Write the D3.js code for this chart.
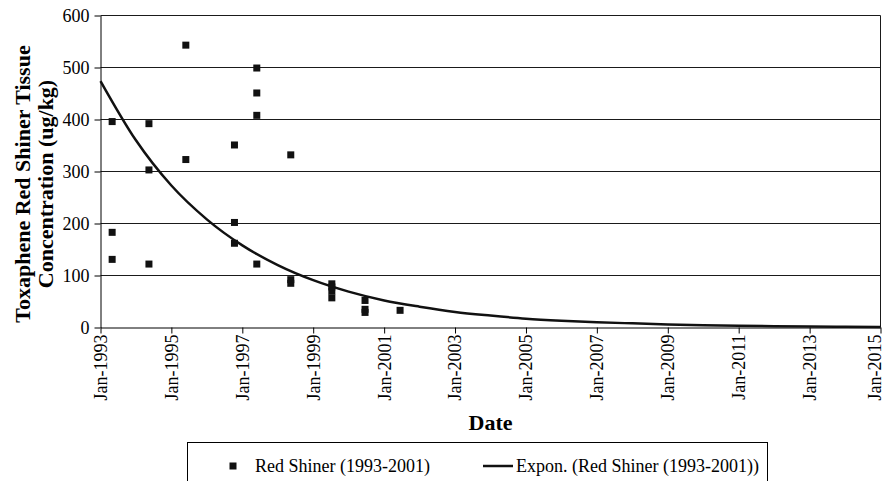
<!DOCTYPE html>
<html>
<head>
<meta charset="utf-8">
<script src="https://cdn.jsdelivr.net/npm/d3@7"></script>
<style>
  body { margin: 0; background: #fff; }
  svg { display: block; }
  text { font-family: "Liberation Serif", "Times New Roman", serif; fill: #000; }
</style>
</head>
<body>
<svg id="chart" width="886" height="481"></svg>
<script>
// Red shiner tissue samples: collection date and toxaphene concentration (ug/kg)
const sampleDates = [
  "1993-05-01", "1993-05-01", "1993-05-01",
  "1994-05-15", "1994-05-15", "1994-05-15",
  "1995-05-30", "1995-05-30",
  "1996-10-12", "1996-10-12", "1996-10-12",
  "1997-05-30", "1997-05-30", "1997-05-30", "1997-05-30",
  "1998-05-15", "1998-05-15", "1998-05-15",
  "1999-07-12", "1999-07-12", "1999-07-12", "1999-07-12",
  "2000-06-18", "2000-06-18", "2000-06-18",
  "2001-06-14"
];
const concentrations = [
  396, 183, 131,
  392, 303, 122,
  543, 323,
  351, 202, 162,
  499, 451, 408, 122,
  332, 92, 85,
  84, 78, 70, 57,
  52, 35, 29,
  33
];

// Exponential trend line, sampled each January
const trendDates = [
  "1993-01-01", "1994-01-01", "1995-01-01", "1996-01-01", "1997-01-01", "1998-01-01",
  "1999-01-01", "2000-01-01", "2001-01-01", "2002-01-01", "2003-01-01", "2004-01-01",
  "2005-01-01", "2006-01-01", "2007-01-01", "2008-01-01", "2009-01-01", "2010-01-01",
  "2011-01-01", "2012-01-01", "2013-01-01", "2014-01-01", "2015-01-01"
];
const trendValues = [
  474, 360, 273, 208, 158, 120,
  91, 69, 52, 40, 30, 23,
  17, 13, 10, 8, 6, 4.4,
  3.4, 2.6, 1.9, 1.5, 1.1
];

const yTicks = [0, 100, 200, 300, 400, 500, 600];
const xTickDates = [
  "1993-01-01", "1995-01-01", "1997-01-01", "1999-01-01", "2001-01-01", "2003-01-01",
  "2005-01-01", "2007-01-01", "2009-01-01", "2011-01-01", "2013-01-01", "2015-01-01"
];
const seriesLabels = ["Red Shiner (1993-2001)", "Expon. (Red Shiner (1993-2001))"];
const yTitleLines = ["Toxaphene Red Shiner Tissue", "Concentration (ug/kg)"];
const xTitle = "Date";

const parse = d3.timeParse("%Y-%m-%d");
const svg = d3.select("#chart");

const plot = { left: 100.5, right: 880.5, top: 15.5, bottom: 327.5 };

const x = d3.scaleTime()
  .domain([parse("1993-01-01"), parse("2015-01-01")])
  .range([plot.left, plot.right]);
const y = d3.scaleLinear()
  .domain([0, 600])
  .range([plot.bottom, plot.top]);

// Horizontal gridlines and plot frame
svg.append("g")
  .selectAll("line")
  .data(yTicks.filter(v => v > 0))
  .join("line")
  .attr("x1", plot.left).attr("x2", plot.right)
  .attr("y1", d => y(d)).attr("y2", d => y(d))
  .attr("stroke", "#1a1a1a").attr("stroke-width", 1);
svg.append("line")
  .attr("x1", plot.right).attr("x2", plot.right)
  .attr("y1", plot.top).attr("y2", plot.bottom)
  .attr("stroke", "#1a1a1a").attr("stroke-width", 1);

// Axes
const yAxis = svg.append("g")
  .attr("transform", `translate(${plot.left},0)`)
  .call(d3.axisLeft(y).tickValues(yTicks).tickSize(6).tickSizeOuter(0).tickPadding(5));
const xAxis = svg.append("g")
  .attr("transform", `translate(0,${plot.bottom})`)
  .call(d3.axisBottom(x).tickValues(xTickDates.map(parse))
    .tickFormat(d3.timeFormat("%b-%Y")).tickSize(6).tickSizeOuter(0));

[yAxis, xAxis].forEach(g => {
  g.attr("font-family", null).attr("font-size", null);
  g.selectAll("path, line").attr("stroke", "#000").attr("stroke-width", 1);
  g.selectAll("text").style("font-size", "18px");
});
// The last date label sits against the right edge, so it is nudged inward
const lastTick = xTickDates.length - 1;
xAxis.selectAll("text")
  .attr("transform", "rotate(-90)")
  .attr("text-anchor", "end")
  .attr("x", -7)
  .attr("y", (d, i) => (i === lastTick ? -6 : 0))
  .attr("dy", "0.33em");

// Exponential trend line
const trend = trendDates.map((d, i) => ({ date: parse(d), value: trendValues[i] }));
svg.append("path")
  .datum(trend)
  .attr("fill", "none")
  .attr("stroke", "#111")
  .attr("stroke-width", 2.5)
  .attr("d", d3.line().x(d => x(d.date)).y(d => y(d.value)).curve(d3.curveMonotoneX));

// Sample markers
const markerSize = 7;
svg.append("g")
  .selectAll("rect")
  .data(sampleDates.map((d, i) => ({ date: parse(d), value: concentrations[i] })))
  .join("rect")
  .attr("x", d => x(d.date) - markerSize / 2)
  .attr("y", d => y(d.value) - markerSize / 2)
  .attr("width", markerSize)
  .attr("height", markerSize)
  .attr("fill", "#111");

// Axis titles
const yTitle = svg.append("text")
  .attr("transform", "translate(0,184) rotate(-90)")
  .attr("text-anchor", "middle")
  .style("font-size", "22px")
  .style("font-weight", "bold");
yTitle.selectAll("tspan")
  .data(yTitleLines)
  .join("tspan")
  .attr("x", 0)
  .attr("y", (d, i) => 30 + i * 23)
  .text(d => d);

svg.append("text")
  .attr("x", (plot.left + plot.right) / 2)
  .attr("y", 430)
  .attr("text-anchor", "middle")
  .style("font-size", "22px")
  .style("font-weight", "bold")
  .text(xTitle);

// Legend
const legend = svg.append("g");
legend.append("rect")
  .attr("x", 187.5).attr("y", 442.5)
  .attr("width", 580).attr("height", 60)
  .attr("fill", "#fff").attr("stroke", "#000").attr("stroke-width", 1);
legend.append("rect")
  .attr("x", 233 - markerSize / 2).attr("y", 466 - markerSize / 2)
  .attr("width", markerSize).attr("height", markerSize)
  .attr("fill", "#111");
legend.append("text")
  .attr("x", 255).attr("y", 472)
  .style("font-size", "18px")
  .text(seriesLabels[0]);
legend.append("line")
  .attr("x1", 483).attr("x2", 513)
  .attr("y1", 466).attr("y2", 466)
  .attr("stroke", "#111").attr("stroke-width", 2.5);
legend.append("text")
  .attr("x", 516).attr("y", 472)
  .style("font-size", "18px")
  .text(seriesLabels[1]);
</script>
</body>
</html>
